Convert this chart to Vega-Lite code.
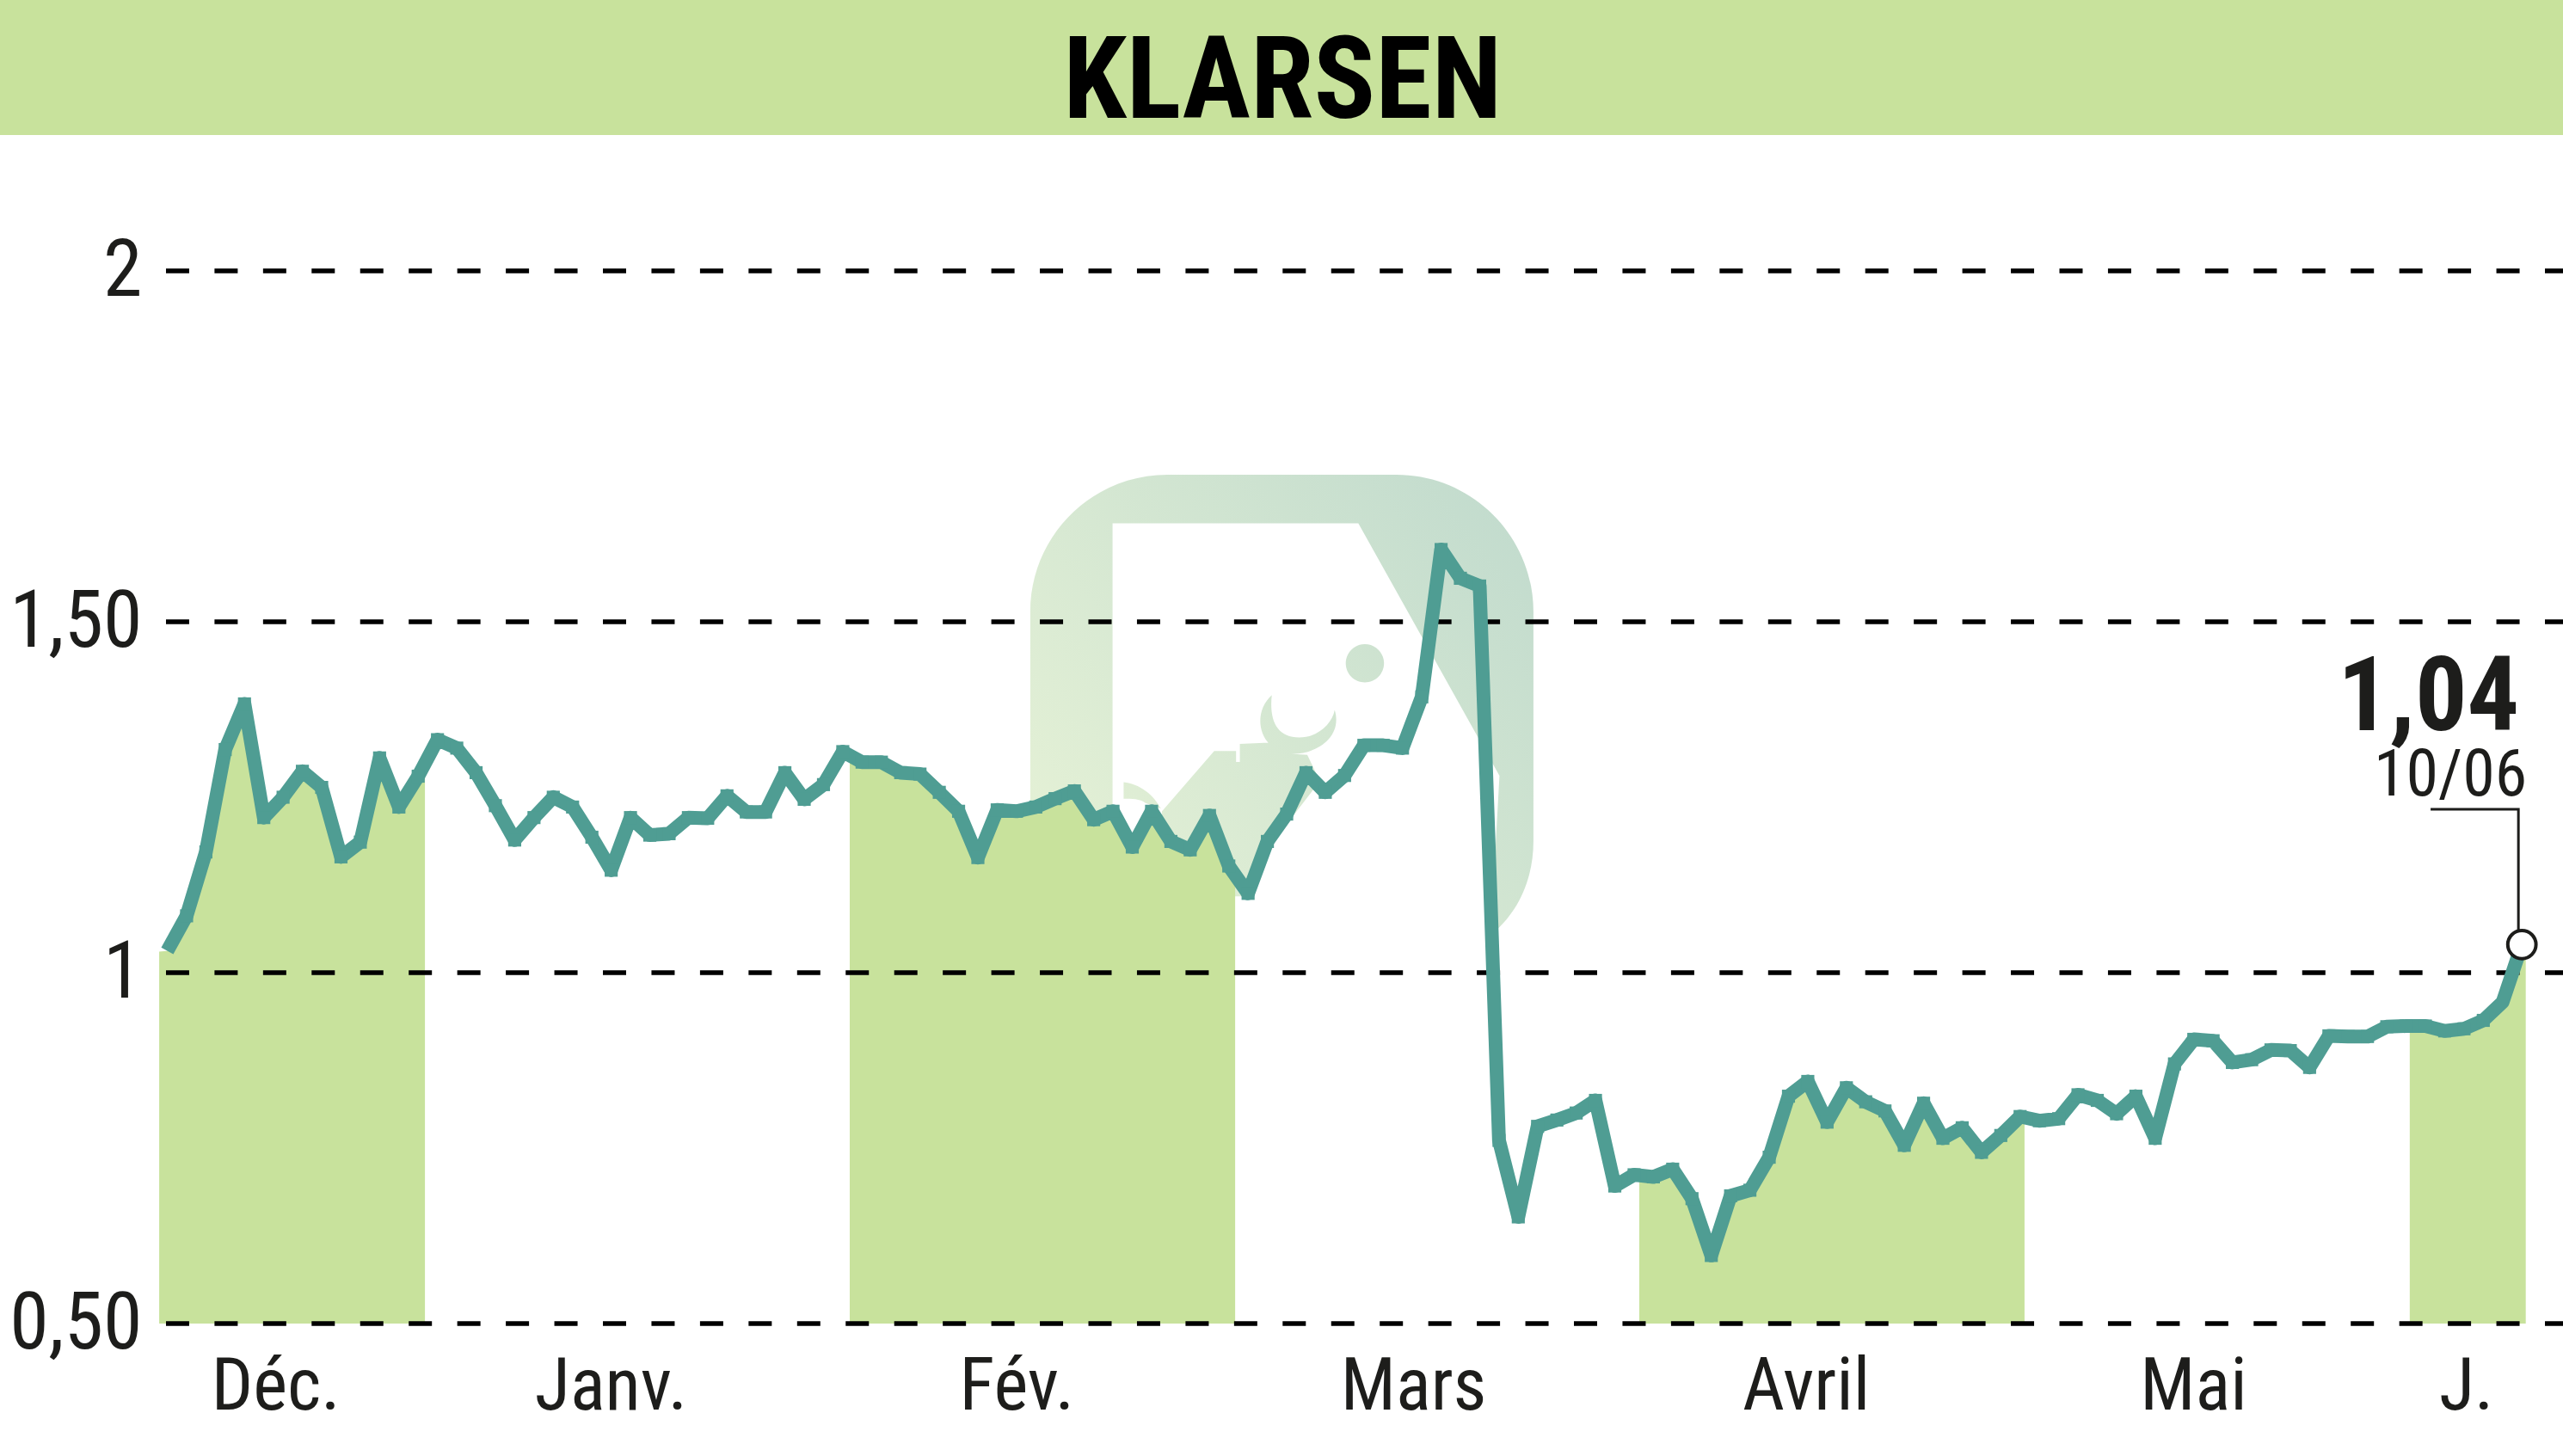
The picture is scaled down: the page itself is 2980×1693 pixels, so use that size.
{
  "$schema": "https://vega.github.io/schema/vega-lite/v6.json",
  "description": "KLARSEN - cours de l'action sur six mois",
  "autosize": "none",
  "padding": {"left": 193, "top": 315, "right": 0, "bottom": 154},
  "width": 2787,
  "height": 1224,
  "background": "white",
  "config": {
    "view": {"stroke": null},
    "axis": {
      "labelFont": "Roboto Condensed, Open Sans Condensed, DejaVu Sans Condensed, Roboto, sans-serif",
      "labelColor": "#1d1d1b",
      "domain": false,
      "ticks": false,
      "grid": false,
      "title": null
    }
  },
  "datasets": {
    "cours": [
      {"seance": -0.42, "cours": 1.03, "zone": "Déc.", "limite": true},
      {"seance": 0, "cours": 1.031, "zone": "Déc."},
      {"seance": 1, "cours": 1.081, "zone": "Déc."},
      {"seance": 2, "cours": 1.172, "zone": "Déc."},
      {"seance": 3, "cours": 1.318, "zone": "Déc."},
      {"seance": 4, "cours": 1.383, "zone": "Déc."},
      {"seance": 5, "cours": 1.221, "zone": "Déc."},
      {"seance": 6, "cours": 1.25, "zone": "Déc."},
      {"seance": 7, "cours": 1.287, "zone": "Déc."},
      {"seance": 8, "cours": 1.264, "zone": "Déc."},
      {"seance": 9, "cours": 1.165, "zone": "Déc."},
      {"seance": 10, "cours": 1.186, "zone": "Déc."},
      {"seance": 11, "cours": 1.306, "zone": "Déc."},
      {"seance": 12, "cours": 1.236, "zone": "Déc."},
      {"seance": 13, "cours": 1.28, "zone": "Déc."},
      {"seance": 13.35, "cours": 1.298, "zone": "Déc.", "limite": true},
      {"seance": 14, "cours": 1.332},
      {"seance": 15, "cours": 1.32},
      {"seance": 16, "cours": 1.285},
      {"seance": 17, "cours": 1.238},
      {"seance": 18, "cours": 1.189},
      {"seance": 19, "cours": 1.221},
      {"seance": 20, "cours": 1.25},
      {"seance": 21, "cours": 1.236},
      {"seance": 22, "cours": 1.193},
      {"seance": 23, "cours": 1.146},
      {"seance": 24, "cours": 1.221},
      {"seance": 25, "cours": 1.196},
      {"seance": 26, "cours": 1.198},
      {"seance": 27, "cours": 1.221},
      {"seance": 28, "cours": 1.22},
      {"seance": 29, "cours": 1.252},
      {"seance": 30, "cours": 1.229},
      {"seance": 31, "cours": 1.229},
      {"seance": 32, "cours": 1.285},
      {"seance": 33, "cours": 1.247},
      {"seance": 34, "cours": 1.268},
      {"seance": 35, "cours": 1.315},
      {"seance": 35.36, "cours": 1.31, "zone": "Fév.", "limite": true},
      {"seance": 36, "cours": 1.3, "zone": "Fév."},
      {"seance": 37, "cours": 1.3, "zone": "Fév."},
      {"seance": 38, "cours": 1.285, "zone": "Fév."},
      {"seance": 39, "cours": 1.283, "zone": "Fév."},
      {"seance": 40, "cours": 1.257, "zone": "Fév."},
      {"seance": 41, "cours": 1.23, "zone": "Fév."},
      {"seance": 42, "cours": 1.164, "zone": "Fév."},
      {"seance": 43, "cours": 1.232, "zone": "Fév."},
      {"seance": 44, "cours": 1.23, "zone": "Fév."},
      {"seance": 45, "cours": 1.236, "zone": "Fév."},
      {"seance": 46, "cours": 1.248, "zone": "Fév."},
      {"seance": 47, "cours": 1.259, "zone": "Fév."},
      {"seance": 48, "cours": 1.218, "zone": "Fév."},
      {"seance": 49, "cours": 1.23, "zone": "Fév."},
      {"seance": 50, "cours": 1.179, "zone": "Fév."},
      {"seance": 51, "cours": 1.23, "zone": "Fév."},
      {"seance": 52, "cours": 1.187, "zone": "Fév."},
      {"seance": 53, "cours": 1.175, "zone": "Fév."},
      {"seance": 54, "cours": 1.224, "zone": "Fév."},
      {"seance": 55, "cours": 1.152, "zone": "Fév."},
      {"seance": 55.33, "cours": 1.139, "zone": "Fév.", "limite": true},
      {"seance": 56, "cours": 1.113},
      {"seance": 57, "cours": 1.187},
      {"seance": 58, "cours": 1.226},
      {"seance": 59, "cours": 1.285},
      {"seance": 60, "cours": 1.257},
      {"seance": 61, "cours": 1.281},
      {"seance": 62, "cours": 1.324},
      {"seance": 63, "cours": 1.324},
      {"seance": 64, "cours": 1.32},
      {"seance": 65, "cours": 1.393},
      {"seance": 66, "cours": 1.603},
      {"seance": 67, "cours": 1.562},
      {"seance": 68, "cours": 1.551},
      {"seance": 69, "cours": 0.761},
      {"seance": 70, "cours": 0.652},
      {"seance": 71, "cours": 0.781},
      {"seance": 72, "cours": 0.79},
      {"seance": 73, "cours": 0.8},
      {"seance": 74, "cours": 0.818},
      {"seance": 75, "cours": 0.696},
      {"seance": 76, "cours": 0.712},
      {"seance": 76.27, "cours": 0.711, "zone": "Avril", "limite": true},
      {"seance": 77, "cours": 0.709, "zone": "Avril"},
      {"seance": 78, "cours": 0.72, "zone": "Avril"},
      {"seance": 79, "cours": 0.678, "zone": "Avril"},
      {"seance": 80, "cours": 0.597, "zone": "Avril"},
      {"seance": 81, "cours": 0.682, "zone": "Avril"},
      {"seance": 82, "cours": 0.69, "zone": "Avril"},
      {"seance": 83, "cours": 0.737, "zone": "Avril"},
      {"seance": 84, "cours": 0.824, "zone": "Avril"},
      {"seance": 85, "cours": 0.845, "zone": "Avril"},
      {"seance": 86, "cours": 0.787, "zone": "Avril"},
      {"seance": 87, "cours": 0.836, "zone": "Avril"},
      {"seance": 88, "cours": 0.816, "zone": "Avril"},
      {"seance": 89, "cours": 0.803, "zone": "Avril"},
      {"seance": 90, "cours": 0.754, "zone": "Avril"},
      {"seance": 91, "cours": 0.814, "zone": "Avril"},
      {"seance": 92, "cours": 0.764, "zone": "Avril"},
      {"seance": 93, "cours": 0.779, "zone": "Avril"},
      {"seance": 94, "cours": 0.744, "zone": "Avril"},
      {"seance": 95, "cours": 0.768, "zone": "Avril"},
      {"seance": 96, "cours": 0.795, "zone": "Avril"},
      {"seance": 96.23, "cours": 0.794, "zone": "Avril", "limite": true},
      {"seance": 97, "cours": 0.789},
      {"seance": 98, "cours": 0.792},
      {"seance": 99, "cours": 0.826},
      {"seance": 100, "cours": 0.818},
      {"seance": 101, "cours": 0.799},
      {"seance": 102, "cours": 0.824},
      {"seance": 103, "cours": 0.764},
      {"seance": 104, "cours": 0.87},
      {"seance": 105, "cours": 0.905},
      {"seance": 106, "cours": 0.903},
      {"seance": 107, "cours": 0.872},
      {"seance": 108, "cours": 0.876},
      {"seance": 109, "cours": 0.89},
      {"seance": 110, "cours": 0.889},
      {"seance": 111, "cours": 0.865},
      {"seance": 112, "cours": 0.91},
      {"seance": 113, "cours": 0.909},
      {"seance": 114, "cours": 0.909},
      {"seance": 115, "cours": 0.923},
      {"seance": 116, "cours": 0.924},
      {"seance": 116.19, "cours": 0.924, "zone": "J.", "limite": true},
      {"seance": 117, "cours": 0.924, "zone": "J."},
      {"seance": 118, "cours": 0.917, "zone": "J."},
      {"seance": 119, "cours": 0.92, "zone": "J."},
      {"seance": 120, "cours": 0.932, "zone": "J."},
      {"seance": 121, "cours": 0.958, "zone": "J."},
      {"seance": 122, "cours": 1.04, "zone": "J."},
      {"seance": 122.2, "cours": 1.04, "zone": "J.", "limite": true}
    ],
    "grille": [{"niveau": 0.5}, {"niveau": 1}, {"niveau": 1.5}, {"niveau": 2}],
    "dernier": [{"seance": 122, "cours": 1.04, "valeur": "1,04", "date": "10/06"}],
    "renvoi": [
      {"seance": 117.27, "cours": 1.2328},
      {"seance": 121.82, "cours": 1.2328},
      {"seance": 121.82, "cours": 1.06}
    ]
  },
  "layer": [
    {
      "data": {"values": [{"debut": -8.67, "fin": 124.13, "bas": 2.1936, "haut": 2.386}]},
      "mark": {"type": "rect", "color": "#c8e29c"},
      "encoding": {
        "x": {"field": "debut", "type": "quantitative"},
        "x2": {"field": "fin"},
        "y": {"field": "bas", "type": "quantitative"},
        "y2": {"field": "haut"}
      }
    },
    {
      "data": {"values": [{"seance": 57.78, "cours": 2.218, "nom": "KLARSEN"}]},
      "mark": {"type": "text", "font": "Roboto Condensed, Open Sans Condensed, DejaVu Sans Condensed, Roboto, sans-serif", "fontWeight": "bold", "fontSize": 133, "align": "center", "baseline": "alphabetic", "color": "#000000"},
      "encoding": {
        "x": {"field": "seance", "type": "quantitative"},
        "y": {"field": "cours", "type": "quantitative"},
        "text": {"field": "nom"}
      }
    },
    {
      "data": {"values": [{"seance": 57.75, "cours": 1.351}]},
      "mark": {
        "type": "point",
        "filled": true,
        "opacity": 1,
        "size": 342225,
        "shape": "M-0.673 1 L-0.455 1 C-0.756 1 -1 0.756 -1 0.455 L-1 -0.455 C-1 -0.756 -0.756 -1 -0.455 -1 L0.455 -1 C0.756 -1 1 -0.756 1 -0.455 L1 0.455 C1 0.62 0.93 0.75 0.83 0.83 L0.865 0.196 L0.304 -0.807 L-0.673 -0.807 Z M-0.629 0.222 C-0.564 0.229 -0.509 0.273 -0.481 0.327 L-0.542 0.305 C-0.564 0.288 -0.597 0.288 -0.629 0.288 Z M-0.477 0.338 L-0.269 0.098 L-0.182 0.098 L-0.182 0.142 L-0.167 0.142 L-0.167 0.07 L-0.051 0.065 L0.036 0.109 L0.101 0.113 L0.151 0.218 L-0.051 0.48 L-0.132 0.676 L-0.324 0.676 L-0.477 0.436 Z M0.21 -0.065 C0.243 0.044 0.134 0.109 0.047 0.109 C-0.084 0.109 -0.128 -0.044 -0.04 -0.124 C-0.051 -0.022 -0.019 0.044 0.069 0.044 C0.145 0.044 0.2 -0.011 0.21 -0.065 Z M0.33 -0.327 C0.372 -0.327 0.406 -0.293 0.406 -0.251 C0.406 -0.209 0.372 -0.175 0.33 -0.175 C0.288 -0.175 0.254 -0.209 0.254 -0.251 C0.254 -0.293 0.288 -0.327 0.33 -0.327 Z",
        "color": {
          "gradient": "linear",
          "x1": 0, "y1": 0.8, "x2": 1, "y2": 0,
          "stops": [
            {"offset": 0, "color": "#e6f2d6"},
            {"offset": 1, "color": "#c0dacd"}
          ]
        }
      },
      "encoding": {
        "x": {"field": "seance", "type": "quantitative"},
        "y": {"field": "cours", "type": "quantitative"}
      }
    },
    {
      "data": {"name": "cours"},
      "transform": [{"filter": "datum.zone"}],
      "mark": {"type": "area", "color": "#c8e29c", "opacity": 1},
      "encoding": {
        "x": {
          "field": "seance",
          "type": "quantitative",
          "scale": {"domain": [-0.067, 124.13], "nice": false, "zero": false},
          "axis": {
            "values": [5.6, 22.97, 44, 64.55, 84.9, 104.97, 119.1],
            "labelExpr": "datum.value == 5.6 ? 'Déc.' : datum.value == 22.97 ? 'Janv.' : datum.value == 44 ? 'Fév.' : datum.value == 64.55 ? 'Mars' : datum.value == 84.9 ? 'Avril' : datum.value == 104.97 ? 'Mai' : 'J.'",
            "labelFontSize": 85,
            "labelPadding": 32,
            "labelLimit": 0,
            "labelOverlap": false,
            "labelBound": false,
            "labelFlush": false,
            "labelAngle": 0
          }
        },
        "y": {
          "field": "cours",
          "type": "quantitative",
          "scale": {"domain": [0.5, 2], "nice": false, "zero": false},
          "axis": {
            "values": [0.5, 1, 1.5, 2],
            "labelExpr": "datum.value == 0.5 ? '0,50' : datum.value == 1 ? '1' : datum.value == 1.5 ? '1,50' : '2'",
            "labelFontSize": 92,
            "labelPadding": 28,
            "labelLimit": 0,
            "labelOverlap": false,
            "labelBound": false,
            "labelFlush": false
          }
        },
        "y2": {"datum": 0.5},
        "detail": {"field": "zone"}
      }
    },
    {
      "data": {"name": "grille"},
      "mark": {"type": "rule", "color": "#000000", "strokeWidth": 5.5, "strokeDash": [27, 29.45], "strokeDashOffset": 6},
      "encoding": {"y": {"field": "niveau", "type": "quantitative"}}
    },
    {
      "data": {"name": "cours"},
      "transform": [{"filter": "!datum.limite"}],
      "mark": {"type": "line", "color": "#4f9d93", "strokeWidth": 16, "strokeJoin": "round", "strokeCap": "butt"},
      "encoding": {
        "x": {"field": "seance", "type": "quantitative"},
        "y": {"field": "cours", "type": "quantitative"}
      }
    },
    {
      "data": {"name": "cours"},
      "transform": [{"filter": "!datum.limite && datum.seance > 0 && datum.seance < 121"}],
      "mark": {"type": "point", "filled": true, "opacity": 1, "shape": "square", "size": 230, "color": "#4f9d93"},
      "encoding": {
        "x": {"field": "seance", "type": "quantitative"},
        "y": {"field": "cours", "type": "quantitative"}
      }
    },
    {
      "data": {"name": "renvoi"},
      "mark": {"type": "line", "color": "#1d1d1b", "strokeWidth": 3},
      "encoding": {
        "x": {"field": "seance", "type": "quantitative"},
        "y": {"field": "cours", "type": "quantitative"},
        "order": {"field": "cours", "sort": "descending"}
      }
    },
    {
      "data": {"name": "dernier"},
      "mark": {"type": "point", "filled": true, "opacity": 1, "shape": "circle", "size": 1075, "fill": "#ffffff", "stroke": "#1d1d1b", "strokeWidth": 4},
      "encoding": {
        "x": {"field": "seance", "type": "quantitative"},
        "y": {"field": "cours", "type": "quantitative"}
      }
    },
    {
      "data": {"name": "dernier"},
      "mark": {"type": "text", "font": "Roboto Condensed, Open Sans Condensed, DejaVu Sans Condensed, Roboto, sans-serif", "fontWeight": "bold", "fontSize": 120, "align": "right", "baseline": "alphabetic", "dx": -3, "dy": -249, "color": "#1d1d1b"},
      "encoding": {
        "x": {"field": "seance", "type": "quantitative"},
        "y": {"field": "cours", "type": "quantitative"},
        "text": {"field": "valeur"}
      }
    },
    {
      "data": {"name": "dernier"},
      "mark": {"type": "text", "font": "Roboto Condensed, Open Sans Condensed, DejaVu Sans Condensed, Roboto, sans-serif", "fontSize": 76, "align": "right", "baseline": "alphabetic", "dx": 6, "dy": -173, "color": "#1d1d1b"},
      "encoding": {
        "x": {"field": "seance", "type": "quantitative"},
        "y": {"field": "cours", "type": "quantitative"},
        "text": {"field": "date"}
      }
    }
  ]
}
